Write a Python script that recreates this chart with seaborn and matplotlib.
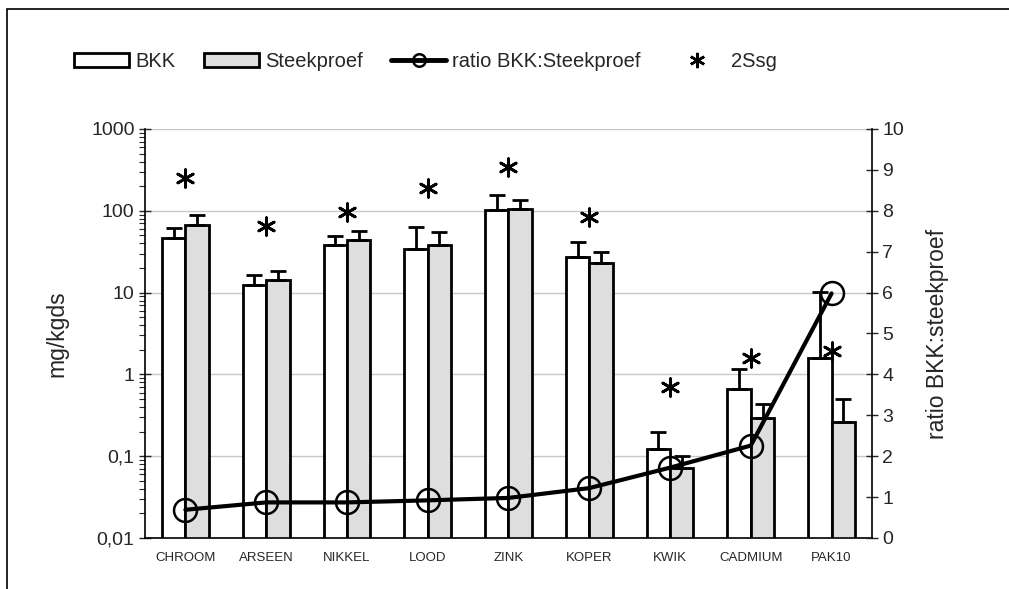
import matplotlib
matplotlib.use("Agg")
import matplotlib.pyplot as plt
import matplotlib.ticker as mticker
from matplotlib.patches import Patch, Rectangle
from matplotlib.lines import Line2D
import numpy as np
import pandas as pd
import seaborn as sns

# Data
metals = ['CHROOM', 'ARSEEN', 'NIKKEL', 'LOOD', 'ZINK', 'KOPER', 'KWIK', 'CADMIUM', 'PAK10']
bkk = [46, 12.3, 38, 34.4, 102, 27.3, 0.123, 0.66, 1.57]
bkk_upper = [62, 16.3, 49, 64, 158, 42, 0.195, 1.18, 10.3]
steekproef = [67, 14.3, 44, 38, 105, 22.9, 0.071, 0.297, 0.263]
steekproef_upper = [88, 18.5, 57, 55, 137, 31.4, 0.10, 0.43, 0.506]
ssg2 = [250, 66, 96, 190, 346, 84, 0.695, 1.58, 1.95]
ratio = [0.69, 0.87, 0.87, 0.92, 0.98, 1.22, 1.72, 2.26, 5.98]

sns.set_style("white")
plt.rcParams['font.family'] = ['Liberation Sans', 'DejaVu Sans']

df = pd.DataFrame({
    'metaal': metals * 2,
    'waarde': bkk + steekproef,
    'groep': ['BKK'] * len(metals) + ['Steekproef'] * len(metals),
})

fig = plt.figure(figsize=(10.09, 5.89), dpi=100)
ax = fig.add_axes([0.1437, 0.0866, 0.7205, 0.6944])

sns.barplot(data=df, x='metaal', y='waarde', hue='groep', order=metals,
            hue_order=['BKK', 'Steekproef'], palette=['white', '#dedede'],
            width=0.58, gap=0, edgecolor='black', linewidth=2,
            errorbar=None, legend=False, ax=ax, zorder=2)
ax.set_yscale('log')

# upper-only error bars on each bar
for cont, vals, upper in zip(ax.containers, [bkk, steekproef], [bkk_upper, steekproef_upper]):
    xs = [p.get_x() + p.get_width() / 2 for p in cont.patches]
    err = [np.zeros(len(vals)), np.array(upper) - np.array(vals)]
    ax.errorbar(xs, vals, yerr=err, fmt='none', ecolor='black', elinewidth=2,
                capsize=6, capthick=2, zorder=3)

sns.scatterplot(x=range(len(metals)), y=ssg2, marker=(6, 2, 0), s=160,
                color='black', linewidth=2, ax=ax, zorder=4)

ax.set_ylim(0.01, 1000)
ax.set_xlim(-0.5, len(metals) - 0.5)
ax.yaxis.set_major_locator(mticker.FixedLocator([0.01, 0.1, 1, 10, 100, 1000]))
ax.yaxis.set_major_formatter(mticker.FixedFormatter(['0,01', '0,1', '1', '10', '100', '1000']))
ax.yaxis.set_minor_locator(mticker.LogLocator(base=10, subs=np.arange(2, 10), numticks=20))
ax.yaxis.set_minor_formatter(mticker.NullFormatter())
ax.grid(axis='y', which='major', color='#c8c8c8', linewidth=1)
ax.set_axisbelow(True)

ax.set_xticks(range(len(metals)))
ax.set_xticklabels(metals, fontsize=9.5)
ax.set_xticks(np.arange(-0.5, len(metals)), minor=True)
ax.tick_params(axis='x', which='major', length=0, pad=10)
ax.tick_params(axis='x', which='minor', direction='inout', length=8, width=1)
ax.tick_params(axis='y', which='major', direction='inout', length=8, width=1, labelsize=14)
ax.tick_params(axis='y', which='minor', direction='out', length=4, width=0.8)
ax.set_xlabel('')
ax.set_ylabel('mg/kgds', fontsize=16.5, labelpad=16)

for side in ['top', 'right']:
    ax.spines[side].set_visible(False)
for side in ['left', 'bottom']:
    ax.spines[side].set_linewidth(1.2)
    ax.spines[side].set_color('black')

# ratio line on the secondary axis
ax2 = ax.twinx()
sns.lineplot(x=range(len(metals)), y=ratio, ax=ax2, color='black', linewidth=3,
             marker='o', markersize=16.5, markerfacecolor='none',
             markeredgecolor='black', markeredgewidth=1.8, zorder=5)
ax2.set_ylim(0, 10)
ax2.set_yticks(range(0, 11))
ax2.tick_params(axis='y', direction='inout', length=8, width=1, labelsize=14)
ax2.set_ylabel('ratio BKK:steekproef', fontsize=16.5, labelpad=16)
ax2.spines['top'].set_visible(False)
ax2.spines['left'].set_visible(False)
ax2.spines['bottom'].set_visible(False)
ax2.spines['right'].set_linewidth(1.2)
ax2.spines['right'].set_color('black')

handles = [
    Patch(facecolor='white', edgecolor='black', linewidth=2),
    Patch(facecolor='#dedede', edgecolor='black', linewidth=2),
    Line2D([0], [0], color='black', linewidth=3.5, marker='o', markersize=9,
           markerfacecolor='none', markeredgewidth=1.8),
    Line2D([0], [0], color='black', linestyle='none', marker=(6, 2, 0),
           markersize=11, markeredgewidth=1.8),
]
labels = ['BKK', 'Steekproef', 'ratio BKK:Steekproef', '2Ssg']
fig.legend(handles, labels, loc='center left', bbox_to_anchor=(0.0733, 0.896),
           ncol=4, frameon=False, fontsize=14.5, handlelength=2.75, handleheight=0.7,
           handletextpad=0.3, columnspacing=1.4, borderpad=0, borderaxespad=0)

# outer chart border (left and top edges visible)
fig.patches.append(Rectangle((7 / 1009, -0.1), 1.2, 1 - 9 / 589 + 0.1,
                             transform=fig.transFigure, fill=False,
                             edgecolor='black', linewidth=1.2))

fig.savefig('out.png', dpi=100)
